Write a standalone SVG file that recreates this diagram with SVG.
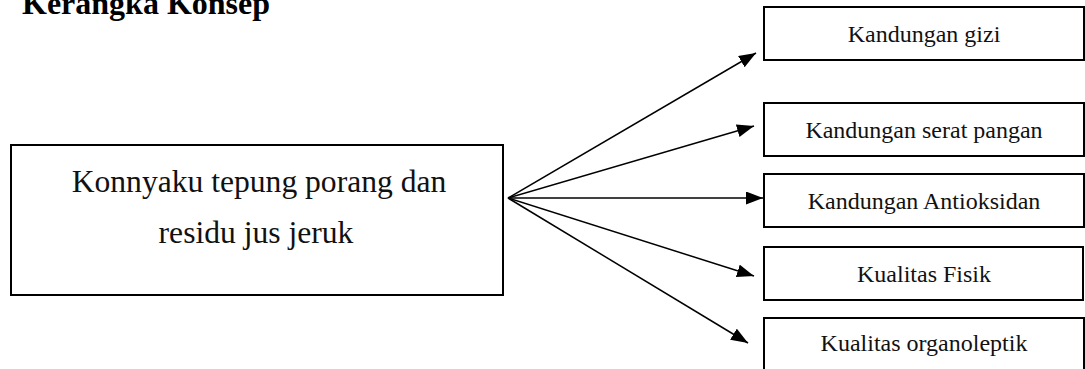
<svg xmlns="http://www.w3.org/2000/svg" width="1085" height="369" viewBox="0 0 1085 369">
  <style>
    .box { fill: #fff; stroke: #000; stroke-width: 2; }
    .lbl { font-family: "Liberation Serif", "Times New Roman", serif; font-size: 24px; fill: #111; text-anchor: middle; }
    .main { font-family: "Liberation Serif", "Times New Roman", serif; font-size: 31.6px; fill: #111; text-anchor: middle; }
    .title { font-family: "Liberation Serif", "Times New Roman", serif; font-size: 32px; font-weight: bold; fill: #000; }
    .conn { stroke: #000; stroke-width: 1.5; fill: none; marker-end: url(#arrow); }
  </style>
  <defs>
    <marker id="arrow" markerUnits="userSpaceOnUse" markerWidth="18" markerHeight="14" refX="17" refY="6.5" orient="auto">
      <path d="M0,0 L17,6.5 L0,13 Z" fill="#000"/>
    </marker>
  </defs>
  <rect width="1085" height="369" fill="#fff"/>

  <!-- heading, partly above the top edge -->
  <text class="title" x="22" y="14">Kerangka Konsep</text>

  <g id="connectors">
    <line class="conn" x1="508" y1="198" x2="756" y2="53"/>
    <line class="conn" x1="508" y1="198" x2="754" y2="126"/>
    <line class="conn" x1="508" y1="198" x2="763" y2="198"/>
    <line class="conn" x1="508" y1="198" x2="754" y2="276"/>
    <line class="conn" x1="508" y1="198" x2="748" y2="343"/>
  </g>

  <g id="node-konnyaku">
    <rect class="box" x="11" y="145" width="492" height="150"/>
    <text class="main" x="259" y="192">Konnyaku tepung porang dan</text>
    <text class="main" x="256" y="243">residu jus jeruk</text>
  </g>

  <g id="node-gizi">
    <rect class="box" x="764" y="7" width="320" height="53"/>
    <text class="lbl" x="924" y="42">Kandungan gizi</text>
  </g>

  <g id="node-serat">
    <rect class="box" x="764" y="103" width="320" height="53"/>
    <text class="lbl" x="924" y="138">Kandungan serat pangan</text>
  </g>

  <g id="node-antioksidan">
    <rect class="box" x="764" y="174" width="320" height="53"/>
    <text class="lbl" x="924" y="209">Kandungan Antioksidan</text>
  </g>

  <g id="node-fisik">
    <rect class="box" x="764" y="247" width="319" height="53"/>
    <text class="lbl" x="924" y="282">Kualitas Fisik</text>
  </g>

  <g id="node-organoleptik">
    <rect class="box" x="764" y="318" width="320" height="54"/>
    <text class="lbl" x="924" y="351">Kualitas organoleptik</text>
  </g>
</svg>
